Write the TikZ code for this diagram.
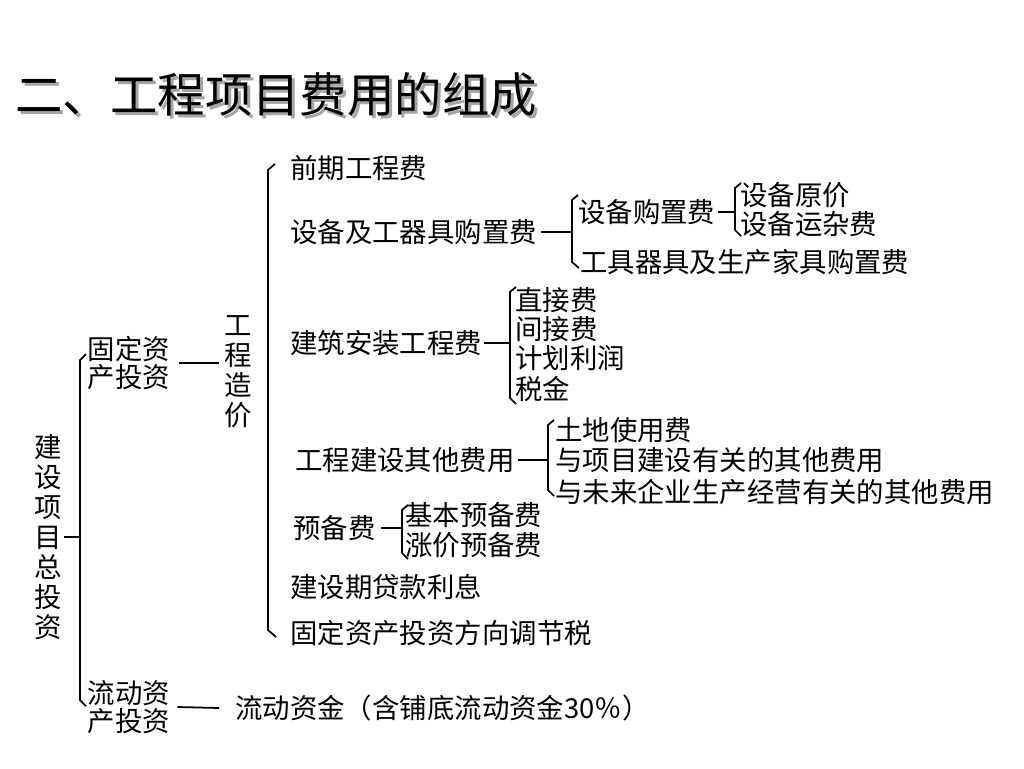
\documentclass[tikz,border=0pt]{standalone}
\usepackage{fontspec}
\setmainfont{Noto Sans CJK SC}
\usepackage{tikz}

\begin{document}
\begin{tikzpicture}[
    x=0.02cm, y=-0.02cm,
    ln/.style={line width=1pt},
    lbl/.style={anchor=west, inner sep=0pt, font=\fontsize{15.6}{16.5}\selectfont},
    vtx/.style={align=center, inner sep=0pt, font=\fontsize{15.6}{17.1}\selectfont},
    dbl/.style={align=center, inner sep=0pt, font=\fontsize{15.6}{16.3}\selectfont},
    ttl/.style={anchor=west, inner sep=0pt, font=\fontsize{27}{30}\selectfont},
  ]
  \path[use as bounding box, fill=white] (0,0) rectangle (1024,768);

  % ============ Title ============
  \node[ttl, text=black!35] (titleshd) at (18,98) {二、工程项目费用的组成};
  \node[ttl] (title) at (15,95) {二、工程项目费用的组成};

  % ============ Root ============
  \node[vtx] (zt) at (48,537) {建\\设\\项\\目\\总\\投\\资};
  \coordinate (kb0t) at (80,360);
  \coordinate (kb0b) at (80,700);
  \draw[ln] (kb0t) ++(6,-6) -- (kb0t) -- (kb0b) -- ++(6,6);
  \draw[ln] ([xshift=1pt]zt.east) -- (zt.east -| kb0t);

  % ============ Fixed assets ============
  \node[dbl] (gd) at (129,363) {固定资\\产投资};
  \node[vtx] (gcz) at (238,372) {工\\程\\造\\价};
  \draw[ln] ([xshift=5pt]gd.east) -- ([xshift=-3pt]gd.east -| gcz.west);

  \coordinate (kb1t) at (268,170);
  \coordinate (kb1b) at (268,630);
  \draw[ln] (kb1t) ++(7,-6) -- (kb1t) -- (kb1b) -- ++(8,7);

  \node[lbl] (qq) at (290,168) {前期工程费};
  \node[lbl] (sb) at (290,232) {设备及工器具购置费};
  \node[lbl] (jz) at (290,343) {建筑安装工程费};
  \node[lbl] (qt) at (295,460) {工程建设其他费用};
  \node[lbl] (yb) at (293,528) {预备费};
  \node[lbl] (dk) at (290,587) {建设期贷款利息};
  \node[lbl] (fx) at (290,633) {固定资产投资方向调节税};

  % ---- equipment ----
  \coordinate (kb2t) at (572,200);
  \coordinate (kb2b) at (572,262);
  \draw[ln] (kb2t) ++(6,-5) -- (kb2t) -- (kb2b) -- ++(7,6);
  \draw[ln] ([xshift=2pt]sb.east) -- (sb.east -| kb2t);

  \node[lbl] (sbgz) at (578,212) {设备购置费};
  \node[lbl] (gjqj) at (580,262) {工具器具及生产家具购置费};

  \coordinate (kb3t) at (735,188);
  \coordinate (kb3b) at (735,230);
  \draw[ln] (kb3t) ++(6,-5) -- (kb3t) -- (kb3b) -- ++(6,6);
  \draw[ln] ([xshift=1pt]sbgz.east) -- (sbgz.east -| kb3t);

  \node[lbl] (sbyj) at (740,195) {设备原价};
  \node[lbl] (sbyz) at (740,224) {设备运杂费};

  % ---- construction ----
  \coordinate (kb4t) at (510,292);
  \coordinate (kb4b) at (510,398);
  \draw[ln] (kb4t) ++(6,-5) -- (kb4t) -- (kb4b) -- ++(6,6);
  \draw[ln] ([xshift=1pt]jz.east) -- (jz.east -| kb4t);

  \node[lbl] (zj) at (515,300) {直接费};
  \node[lbl] (jj) at (515,329) {间接费};
  \node[lbl] (jh) at (515,358) {计划利润};
  \node[lbl] (sj) at (515,389) {税金};

  % ---- other costs ----
  \coordinate (kb5t) at (548,425);
  \coordinate (kb5b) at (548,490);
  \draw[ln] (kb5t) ++(6,-5) -- (kb5t) -- (kb5b) -- ++(6,6);
  \draw[ln] ([xshift=2pt]qt.east) -- (qt.east -| kb5t);

  \node[lbl] (td) at (555,430) {土地使用费};
  \node[lbl] (xm) at (555,460) {与项目建设有关的其他费用};
  \node[lbl] (wl) at (555,492) {与未来企业生产经营有关的其他费用};

  % ---- reserve ----
  \coordinate (kb6t) at (402,510);
  \coordinate (kb6b) at (402,553);
  \draw[ln] (kb6t) ++(6,-5) -- (kb6t) -- (kb6b) -- ++(6,6);
  \draw[ln] ([xshift=3pt]yb.east) -- (yb.east -| kb6t);

  \node[lbl] (jb) at (405,515) {基本预备费};
  \node[lbl] (zjb) at (405,545) {涨价预备费};

  % ============ Current assets ============
  \node[dbl] (ld) at (129,707) {流动资\\产投资};
  \node[lbl] (ldzj) at (235,708) {流动资金（含铺底流动资金30％）};
  \draw[ln] ([xshift=4pt]ld.east) -- ([xshift=-9pt]ldzj.west);

\end{tikzpicture}
\end{document}
